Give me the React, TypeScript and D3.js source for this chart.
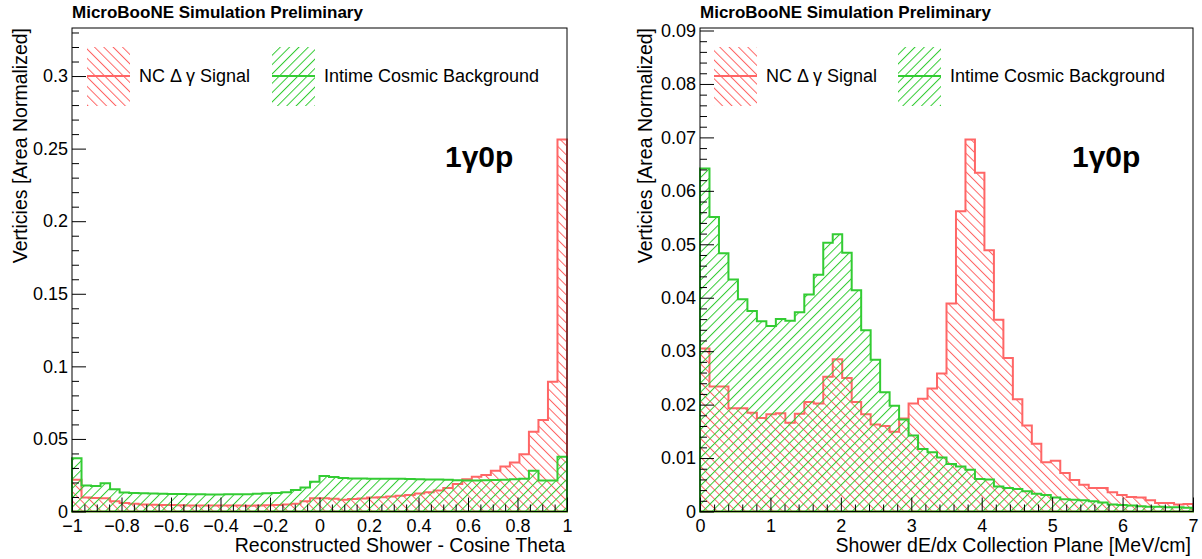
import React, { useRef, useEffect } from "react";
import * as d3 from "d3";

// 52 bins per histogram, area normalized
const nBins = 52;

// left pad: reconstructed shower cos(theta), -1 .. 1
const cosThetaSignal = [
  0.0218, 0.0096, 0.0093, 0.0092, 0.007, 0.0058, 0.0053, 0.0048, 0.0046, 0.0045,
  0.0044, 0.0043, 0.0042, 0.0042, 0.0041, 0.0041, 0.0042, 0.0041, 0.004, 0.0042,
  0.0043, 0.0045, 0.0049, 0.0053, 0.007, 0.0092, 0.0092, 0.0088, 0.0081, 0.0086,
  0.009, 0.0096, 0.0099, 0.0104, 0.0108, 0.0114, 0.0124, 0.0133, 0.0145, 0.0162,
  0.019, 0.0222, 0.024, 0.0252, 0.028, 0.031, 0.0337, 0.0395, 0.055, 0.0631,
  0.0894, 0.2562,
];
const cosThetaCosmic = [
  0.0367, 0.0179, 0.0176, 0.0195, 0.0154, 0.0131, 0.0127, 0.0125, 0.0124, 0.0122,
  0.0121, 0.012, 0.0119, 0.0118, 0.0117, 0.0117, 0.0118, 0.0118, 0.0119, 0.0122,
  0.0125, 0.0128, 0.0133, 0.0148, 0.0166, 0.0205, 0.0245, 0.0238, 0.0231, 0.0228,
  0.0227, 0.0226, 0.0226, 0.0225, 0.0226, 0.0224, 0.0222, 0.0221, 0.022, 0.0218,
  0.0216, 0.0214, 0.0213, 0.0215, 0.0217, 0.0218, 0.0222, 0.0226, 0.028, 0.0213,
  0.0213, 0.0378,
];

// right pad: shower dE/dx on the collection plane, 0 .. 7 MeV/cm
const dedxSignal = [
  0.0305, 0.0234, 0.0234, 0.0193, 0.0193, 0.0185, 0.0175, 0.0182, 0.0184, 0.0166,
  0.0183, 0.0205, 0.0202, 0.0252, 0.0285, 0.025, 0.0205, 0.0182, 0.0163, 0.016,
  0.0149, 0.0174, 0.0202, 0.0211, 0.023, 0.0258, 0.0389, 0.0562, 0.0696, 0.0634,
  0.0489, 0.0359, 0.0287, 0.021, 0.0161, 0.0127, 0.0092, 0.0095, 0.0072, 0.0059,
  0.005, 0.0044, 0.0044, 0.0036, 0.0031, 0.0027, 0.0026, 0.0021, 0.0016, 0.0016,
  0.0013, 0.0014,
];
const dedxCosmic = [
  0.0642, 0.0551, 0.0483, 0.0434, 0.0397, 0.0375, 0.0356, 0.0347, 0.036, 0.0357,
  0.0373, 0.0406, 0.0443, 0.0503, 0.0519, 0.0484, 0.0414, 0.0339, 0.0284, 0.0223,
  0.0198, 0.0172, 0.0142, 0.0117, 0.0111, 0.0101, 0.0089, 0.0084, 0.0078, 0.0061,
  0.006, 0.0047, 0.0044, 0.0042, 0.0038, 0.0033, 0.0031, 0.0026, 0.0023, 0.0022,
  0.0021, 0.0019, 0.0017, 0.0013, 0.0012, 0.0011, 0.001, 0.0009, 0.0009, 0.0008,
  0.0008, 0.0007,
];

const legendLabels = ["NC \u0394 \u03b3 Signal", "Intime Cosmic Background"];
const headerText = "MicroBooNE Simulation Preliminary";
const tagText = "1\u03b30p";
const yTitle = "Verticies [Area Normalized]";
const xTitles = ["Reconstructed Shower - Cosine Theta", "Shower dE/dx Collection Plane [MeV/cm]"];

const FONT = "'Liberation Sans', Arial, Helvetica, sans-serif";
const RED = "#ff6666";
const GREEN = "#33cc33";

interface Panel {
  left: number;
  right: number;
  top: number;
  bottom: number;
  xDomain: [number, number];
  yMax: number;
  xMajor: number;
  xMinor: number;
  yMajor: number;
  yMinor: number;
  signal: number[];
  cosmic: number[];
  xTitle: string;
  yTitleX: number;
  legendX: number[];
  tagX: number;
}

const clean = (v: number) => +v.toFixed(6);

function tickList(lo: number, hi: number, step: number) {
  const n = Math.round((hi - lo) / step);
  return d3.range(n + 1).map((i) => clean(lo + i * step));
}

function drawPanel(svg: any, p: Panel) {
  const x = d3.scaleLinear().domain(p.xDomain).range([p.left, p.right]);
  const y = d3.scaleLinear().domain([0, p.yMax]).range([p.bottom, p.top]);
  const [x0, x1] = p.xDomain;
  const edges = d3.range(nBins + 1).map((i) => x0 + ((x1 - x0) * i) / nBins);

  const step = d3
    .line<[number, number]>()
    .x((d) => x(d[0]))
    .y((d) => y(d[1]))
    .curve(d3.curveStepAfter);

  const histPath = (vals: number[]) => {
    const pts: [number, number][] = [[edges[0], 0]];
    vals.forEach((v, i) => pts.push([edges[i], v]));
    pts.push([edges[nBins], vals[nBins - 1]]);
    pts.push([edges[nBins], 0]);
    return step(pts) + "Z";
  };

  const g = svg.append("g");

  //histograms
  [
    { vals: p.signal, col: RED, pat: "hatchRed" },
    { vals: p.cosmic, col: GREEN, pat: "hatchGreen" },
  ].forEach((h) => {
    g.append("path")
      .attr("d", histPath(h.vals))
      .attr("fill", `url(#${h.pat})`)
      .attr("stroke", h.col)
      .attr("stroke-width", 2)
      .attr("stroke-linejoin", "miter");
  });

  //frame
  g.append("rect")
    .attr("x", p.left)
    .attr("y", p.top)
    .attr("width", p.right - p.left)
    .attr("height", p.bottom - p.top)
    .attr("fill", "none")
    .attr("stroke", "black")
    .attr("stroke-width", 1);

  //axes
  const xMaj = tickList(x0, x1, p.xMajor);
  const xMin = tickList(x0, x1, p.xMinor).filter((v) => !xMaj.some((m) => Math.abs(m - v) < 1e-6));
  const yTop = Math.floor(p.yMax / p.yMajor + 1e-9) * p.yMajor;
  const yMaj = tickList(0, yTop, p.yMajor);
  const yMin = tickList(0, Math.floor(p.yMax / p.yMinor + 1e-9) * p.yMinor, p.yMinor).filter(
    (v) => !yMaj.some((m) => Math.abs(m - v) < 1e-6)
  );
  const fmt = (d: any) => d3.format("~g")(clean(+d));

  const styleAxis = (sel: any) => {
    sel.select(".domain").remove();
    sel.selectAll("line").attr("stroke", "black");
    sel.selectAll("text").attr("font-family", FONT).attr("font-size", 18).attr("fill", "black");
  };

  g.append("g")
    .attr("transform", `translate(0,${p.bottom})`)
    .call(d3.axisBottom(x).tickValues(xMaj).tickSizeInner(-14).tickSizeOuter(0).tickPadding(8).tickFormat(fmt))
    .call(styleAxis);
  g.append("g")
    .attr("transform", `translate(0,${p.bottom})`)
    .call(d3.axisBottom(x).tickValues(xMin).tickSizeInner(-7).tickSizeOuter(0).tickFormat(() => ""))
    .call(styleAxis);
  g.append("g")
    .attr("transform", `translate(${p.left},0)`)
    .call(d3.axisLeft(y).tickValues(yMaj).tickSizeInner(-14).tickSizeOuter(0).tickPadding(4).tickFormat(fmt))
    .call(styleAxis);
  g.append("g")
    .attr("transform", `translate(${p.left},0)`)
    .call(d3.axisLeft(y).tickValues(yMin).tickSizeInner(-7).tickSizeOuter(0).tickFormat(() => ""))
    .call(styleAxis);

  //titles
  g.append("text")
    .attr("x", p.right - 2)
    .attr("y", 552)
    .attr("text-anchor", "end")
    .attr("font-family", FONT)
    .attr("font-size", 19.5)
    .text(p.xTitle);
  g.append("text")
    .attr("transform", `translate(${p.yTitleX},${p.top}) rotate(-90)`)
    .attr("text-anchor", "end")
    .attr("font-family", FONT)
    .attr("font-size", 19.5)
    .text(yTitle);
  g.append("text")
    .attr("x", p.left)
    .attr("y", 18)
    .attr("font-family", FONT)
    .attr("font-size", 17)
    .attr("font-weight", "bold")
    .text(headerText);
  g.append("text")
    .attr("x", p.tagX)
    .attr("y", 167)
    .attr("font-family", FONT)
    .attr("font-size", 30)
    .attr("font-weight", "bold")
    .text(tagText);

  //legend
  [RED, GREEN].forEach((col, i) => {
    const bx = p.legendX[i];
    g.append("rect")
      .attr("x", bx)
      .attr("y", 47)
      .attr("width", 43)
      .attr("height", 59)
      .attr("fill", i === 0 ? "url(#hatchRed)" : "url(#hatchGreen)");
    g.append("line")
      .attr("x1", bx)
      .attr("x2", bx + 43)
      .attr("y1", 76)
      .attr("y2", 76)
      .attr("stroke", col)
      .attr("stroke-width", 2);
    g.append("text")
      .attr("x", bx + 52)
      .attr("y", 82)
      .attr("font-family", FONT)
      .attr("font-size", 18)
      .text(legendLabels[i]);
  });
}

const ChartPanels: React.FC = () => {
  const svgRef = useRef<SVGSVGElement>(null);

  useEffect(() => {
    const svg = d3.select(svgRef.current);
    svg.selectAll("*").remove();
    svg.append("rect").attr("width", 1202).attr("height", 559).attr("fill", "white");

    const defs = svg.append("defs");
    [
      { id: "hatchRed", col: RED, rot: -45 },
      { id: "hatchGreen", col: GREEN, rot: 45 },
    ].forEach((h) => {
      const pat = defs
        .append("pattern")
        .attr("id", h.id)
        .attr("patternUnits", "userSpaceOnUse")
        .attr("width", 6.6)
        .attr("height", 6.6)
        .attr("patternTransform", `rotate(${h.rot})`);
      pat
        .append("line")
        .attr("x1", 0.5)
        .attr("x2", 0.5)
        .attr("y1", 0)
        .attr("y2", 6.6)
        .attr("stroke", h.col)
        .attr("stroke-width", 1);
    });

    drawPanel(svg, {
      left: 72,
      right: 567,
      top: 28,
      bottom: 511.5,
      xDomain: [-1, 1],
      yMax: 0.3331,
      xMajor: 0.2,
      xMinor: 0.05,
      yMajor: 0.05,
      yMinor: 0.01,
      signal: cosThetaSignal,
      cosmic: cosThetaCosmic,
      xTitle: xTitles[0],
      yTitleX: 27,
      legendX: [87, 272],
      tagX: 445,
    });
    drawPanel(svg, {
      left: 700,
      right: 1193,
      top: 28,
      bottom: 511.5,
      xDomain: [0, 7],
      yMax: 0.09047,
      xMajor: 1,
      xMinor: 0.2,
      yMajor: 0.01,
      yMinor: 0.002,
      signal: dedxSignal,
      cosmic: dedxCosmic,
      xTitle: xTitles[1],
      yTitleX: 652,
      legendX: [714, 898],
      tagX: 1072,
    });
  }, []);

  return <svg ref={svgRef} width={1202} height={559} style={{ display: "block" }}></svg>;
};

export default function App() {
  return (
    <div style={{ position: "absolute", left: 0, top: 0 }}>
      <ChartPanels />
    </div>
  );
}
